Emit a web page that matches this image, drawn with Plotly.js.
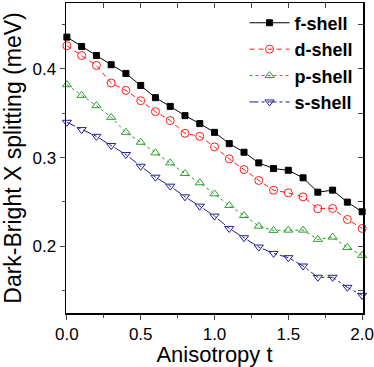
<!DOCTYPE html>
<html><head><meta charset="utf-8">
<script src="https://cdn.plot.ly/plotly-3.0.1.min.js"></script>
<style>html,body{margin:0;padding:0;background:#fff}#plot{width:374px;height:367px}</style>
</head><body><div id="plot"></div>
<script>
const anisotropy = [0.0,0.1,0.2,0.3,0.4,0.5,0.6,0.7,0.8,0.9,1.0,1.1,1.2,1.3,1.4,1.5,1.6,1.7,1.8,1.9,2.0];
const fShell = [0.4356,0.4251,0.4149,0.4045,0.3947,0.3812,0.3674,0.3576,0.3472,0.3382,0.3284,0.3157,0.3060,0.2940,0.2876,0.2857,0.2772,0.2610,0.2633,0.2498,0.2390];
const dShell = [0.4258,0.4149,0.4037,0.3839,0.3756,0.3640,0.3517,0.3416,0.3273,0.3239,0.3120,0.2985,0.2865,0.2742,0.2633,0.2603,0.2558,0.2424,0.2427,0.2303,0.2202];
const pShell = [0.3820,0.3700,0.3584,0.3453,0.3284,0.3172,0.3053,0.2940,0.2820,0.2716,0.2592,0.2461,0.2348,0.2228,0.2180,0.2183,0.2183,0.2079,0.2104,0.1988,0.1899];
const sShell = [0.3397,0.3315,0.3239,0.3135,0.3034,0.2902,0.2779,0.2678,0.2558,0.2453,0.2341,0.2202,0.2098,0.1992,0.1921,0.1873,0.1779,0.1652,0.1652,0.1539,0.1449];
const seriesNames = ['f-shell','d-shell','p-shell','s-shell'];
const xTickVals = [0.0,0.5,1.0,1.5,2.0];
const xTickText = ['0.0','0.5','1.0','1.5','2.0'];
const yTickVals = [0.2,0.3,0.4];
const yTickText = ['0.2','0.3','0.4'];

const FONT = 'Liberation Sans, Arial, sans-serif';
const styles = [
  {color:'#000000', dash:'solid', symbol:'square', size:6},
  {color:'#ff1a1a', dash:'5px,4px', symbol:'circle-open', size:8},
  {color:'#2ca02c', dash:'dot', symbol:'triangle-up-open', size:8},
  {color:'#1f1f99', dash:'dashdot', symbol:'triangle-down-open', size:8}
];
const ys = [fShell, dShell, pShell, sShell];
const traces = ys.map((y,i)=>({
  x: anisotropy, y: y, name: seriesNames[i], type:'scatter', mode:'lines+markers',
  cliponaxis:false,
  line:{color:styles[i].color, width:1, dash:styles[i].dash},
  marker:{symbol:styles[i].symbol, size:styles[i].size, color:styles[i].color, line:{color:styles[i].color, width:1}}
}));
traces.push({x:[null], y:[null], xaxis:'x2', yaxis:'y2', showlegend:false, hoverinfo:'skip', mode:'markers'});

const layout = {
  width:374, height:367,
  margin:{l:66, r:11, t:3, b:54},
  paper_bgcolor:'#fff', plot_bgcolor:'#fff',
  font:{family:FONT, color:'#000'},
  showlegend:true,
  legend:{x:0.985, y:0.995, xanchor:'right', yanchor:'top', bgcolor:'rgba(0,0,0,0)',
    font:{family:FONT, size:18, weight:'bold', color:'#000'}, tracegroupgap:0, itemwidth:40},
  xaxis:{range:[-0.006,2.006], tickvals:xTickVals, ticktext:xTickText, ticks:'outside', ticklen:5, tickwidth:1,
    minor:{dtick:0.25, tick0:0, ticks:'outside', ticklen:3, tickwidth:1},
    showline:true, linecolor:'#000', linewidth:1.5, mirror:true, showgrid:false, zeroline:false,
    tickfont:{size:17, family:FONT}, title:{text:'Anisotropy t', font:{size:22, family:FONT}, standoff:4}},
  yaxis:{range:[0.125,0.474], tickvals:yTickVals, ticktext:yTickText, ticks:'outside', ticklen:5, tickwidth:1,
    minor:{dtick:0.05, tick0:0, ticks:'outside', ticklen:3, tickwidth:1},
    showline:true, linecolor:'#000', linewidth:1.5, mirror:true, showgrid:false, zeroline:false,
    tickfont:{size:17, family:FONT}, title:{text:'Dark-Bright X splitting (meV)', font:{size:23, family:FONT}, standoff:6}},
  xaxis2:{overlaying:'x', side:'top', anchor:'y', matches:'x', range:[-0.006,2.006], dtick:0.25, tick0:0,
    ticks:'inside', ticklen:5, tickwidth:1, showticklabels:false, showgrid:false, zeroline:false, showline:false},
  yaxis2:{overlaying:'y', side:'right', anchor:'x', matches:'y', range:[0.125,0.474], dtick:0.05, tick0:0,
    ticks:'inside', ticklen:5, tickwidth:1, showticklabels:false, showgrid:false, zeroline:false, showline:false}
};
Plotly.newPlot('plot', traces, layout, {staticPlot:true, displayModeBar:false});
</script></body></html>
